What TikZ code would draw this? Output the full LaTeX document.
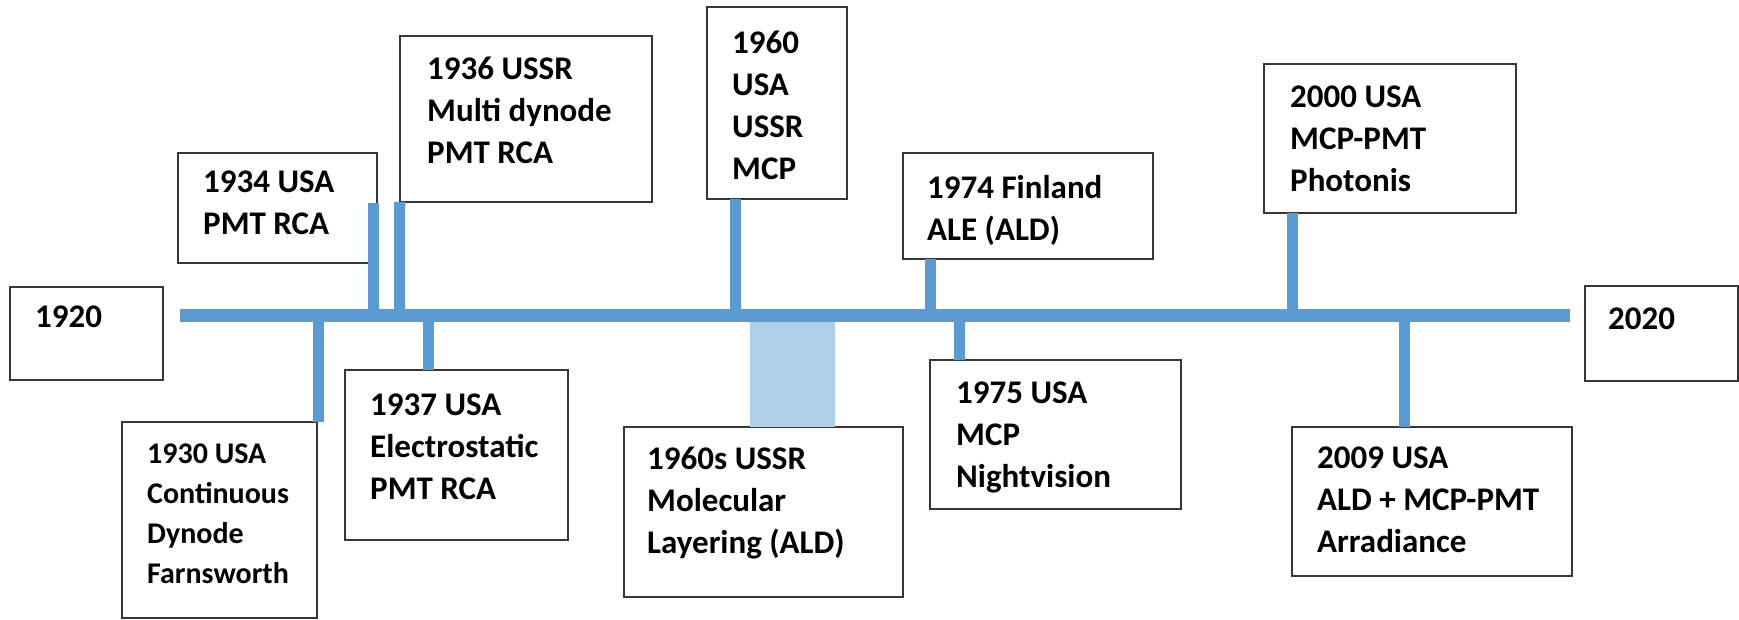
\documentclass[tikz,border=0pt]{standalone}
\usepackage{fontspec}
\setmainfont{Carlito}
\usetikzlibrary{positioning}
\definecolor{lineblue}{RGB}{91,155,213}
\definecolor{bandblue}{RGB}{174,206,233}
\definecolor{boxgray}{RGB}{55,55,55}

\begin{document}
\begin{tikzpicture}[x=1pt, y=-1pt,
    evbox/.style={draw=boxgray, line width=1.6pt, anchor=north west, inner sep=0pt, outer sep=0pt},
    evtext/.style={anchor=north west, inner sep=0pt, align=left,
        font=\bfseries\fontsize{33}{42}\selectfont},
    stem/.style={draw=lineblue, line width=11pt},
    axis/.style={draw=lineblue, line width=13pt}]
    \useasboundingbox (0,0) rectangle (1739,620);

    % End years
    \node[evbox, minimum width=153pt, minimum height=93pt] (b1920) at (10,287) {};
    \node[evtext] (t1920) at ([shift={(25pt,-19pt)}]b1920.north west) {1920};
    \node[evbox, minimum width=153pt, minimum height=95pt] (b2020) at (1585,286) {};
    \node[evtext] (t2020) at ([shift={(23pt,-22pt)}]b2020.north west) {2020};

    % Events above the line
    \node[evbox, minimum width=199pt, minimum height=110pt] (b1934) at (178,153) {};
    \node[evtext] (t1934) at ([shift={(25pt,-18pt)}]b1934.north west) {1934 USA\\PMT RCA};

    \node[evbox, minimum width=252pt, minimum height=166pt] (b1936) at (400,36) {};
    \node[evtext] (t1936) at ([shift={(27pt,-21pt)}]b1936.north west) {1936 USSR\\Multi dynode\\PMT RCA};

    \node[evbox, minimum width=140pt, minimum height=192pt] (b1960) at (707,7) {};
    \node[evtext] (t1960) at ([shift={(25pt,-24pt)}]b1960.north west) {1960\\USA\\USSR\\MCP};

    \node[evbox, minimum width=250pt, minimum height=106pt] (b1974) at (903,153) {};
    \node[evtext] (t1974) at ([shift={(24pt,-22pt)}]b1974.north west) {1974 Finland\\ALE (ALD)};

    \node[evbox, minimum width=252pt, minimum height=149pt] (b2000) at (1264,64) {};
    \node[evtext] (t2000) at ([shift={(26pt,-22pt)}]b2000.north west) {2000 USA\\MCP-PMT\\Photonis};

    % Events below the line
    \node[evbox, minimum width=195pt, minimum height=196pt] (b1930) at (122,422) {};
    \node[evtext, font=\bfseries\fontsize{30}{40}\selectfont] (t1930) at ([shift={(25pt,-22pt)}]b1930.north west) {1930 USA\\Continuous\\Dynode\\Farnsworth};

    \node[evbox, minimum width=223pt, minimum height=170pt] (b1937) at (345,370) {};
    \node[evtext] (t1937) at ([shift={(25pt,-24pt)}]b1937.north west) {1937 USA\\Electrostatic\\PMT RCA};

    \node[evbox, minimum width=279pt, minimum height=170pt] (b1960s) at (624,427) {};
    \node[evtext] (t1960s) at ([shift={(23pt,-20pt)}]b1960s.north west) {1960s USSR\\Molecular\\Layering (ALD)};

    \node[evbox, minimum width=251pt, minimum height=149pt] (b1975) at (930,360) {};
    \node[evtext] (t1975) at ([shift={(26pt,-22pt)}]b1975.north west) {1975 USA\\MCP\\Nightvision};

    \node[evbox, minimum width=280pt, minimum height=149pt] (b2009) at (1292,427) {};
    \node[evtext] (t2009) at ([shift={(25pt,-20pt)}]b2009.north west) {2009 USA\\ALD + MCP-PMT\\Arradiance};

    % Time axis
    \coordinate (lstart) at (180,315);
    \coordinate (lend) at (1570,315);

    % Decade band of the 1960s
    \fill[bandblue] ([xshift=126pt]b1960s.north west) rectangle ([xshift=211pt]b1960s.north west |- lstart);

    \draw[axis] (lstart) -- (lend);

    % Stems
    \coordinate (s1930) at ([xshift=1pt]b1930.north east);
    \coordinate (s1934) at ([shift={(-4pt,60pt)}]b1934.south east);
    \coordinate (s1936) at ([xshift=-1pt]b1936.south west);
    \coordinate (s1937) at ([xshift=83pt]b1937.north west);
    \coordinate (s1960) at ([xshift=28pt]b1960.south west);
    \coordinate (s1974) at ([xshift=27pt]b1974.south west);
    \coordinate (s1975) at ([xshift=29pt]b1975.north west);
    \coordinate (s2000) at ([xshift=28pt]b2000.south west);
    \coordinate (s2009) at ([xshift=112pt]b2009.north west);
    \draw[stem] (s1930) -- (s1930 |- lstart);
    \draw[stem] (s1934) -- (s1934 |- lstart);
    \draw[stem] (s1936) -- (s1936 |- lstart);
    \draw[stem] (s1937) -- (s1937 |- lstart);
    \draw[stem] (s1960) -- (s1960 |- lstart);
    \draw[stem] (s1974) -- (s1974 |- lstart);
    \draw[stem] (s1975) -- (s1975 |- lstart);
    \draw[stem] (s2000) -- (s2000 |- lstart);
    \draw[stem] (s2009) -- (s2009 |- lstart);
\end{tikzpicture}
\end{document}
